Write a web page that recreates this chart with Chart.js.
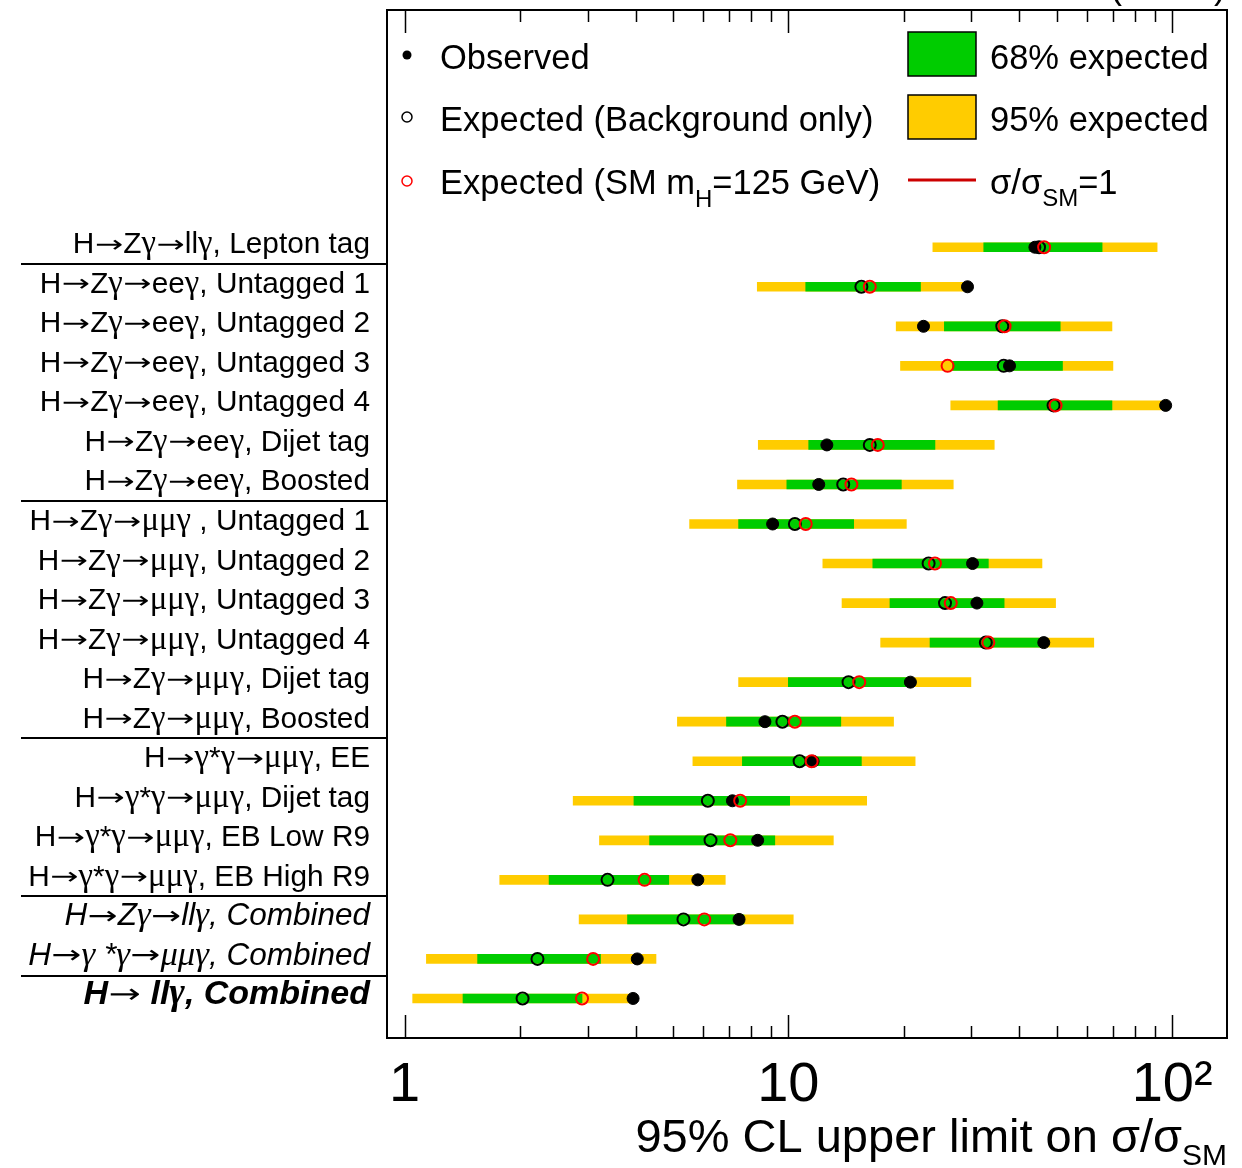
<!DOCTYPE html>
<html>
<head>
<meta charset="utf-8">
<title>H to ll gamma limits</title>
<script src="https://cdn.jsdelivr.net/npm/chart.js@4.4.0/dist/chart.umd.min.js"></script>
<style>
    html, body { margin: 0; padding: 0; background: #fff; }
    #wrap { width: 1242px; height: 1168px; position: relative; }
</style>
</head>
<body>
<div id="wrap"><canvas id="limitsChart"></canvas></div>
<script>
// --- Datos (límite superior al 95% CL sobre sigma/sigma_SM) ---
const categories = [
    'H→Zγ→llγ, Lepton tag',
    'H→Zγ→eeγ, Untagged 1',
    'H→Zγ→eeγ, Untagged 2',
    'H→Zγ→eeγ, Untagged 3',
    'H→Zγ→eeγ, Untagged 4',
    'H→Zγ→eeγ, Dijet tag',
    'H→Zγ→eeγ, Boosted',
    'H→Zγ→μμγ , Untagged 1',
    'H→Zγ→μμγ, Untagged 2',
    'H→Zγ→μμγ, Untagged 3',
    'H→Zγ→μμγ, Untagged 4',
    'H→Zγ→μμγ, Dijet tag',
    'H→Zγ→μμγ, Boosted',
    'H→γ*γ→μμγ, EE',
    'H→γ*γ→μμγ, Dijet tag',
    'H→γ*γ→μμγ, EB Low R9',
    'H→γ*γ→μμγ, EB High R9',
    'H→Zγ→llγ, Combined',
    'H→γ *γ→μμγ, Combined',
    'H→ llγ, Combined'
];
const yellowLo    = [23.8, 8.30, 19.1, 19.6, 26.5, 8.35, 7.37, 5.53, 12.3, 13.8, 17.4, 7.42, 5.14, 5.64, 2.75, 3.22, 1.77, 2.85, 1.14, 1.05];
const yellowHi    = [91.4, 28.9, 69.7, 70.1, 94.0, 34.4, 26.9, 20.3, 45.8, 49.7, 62.5, 29.9, 18.8, 21.4, 16.0, 13.1, 6.85, 10.3, 4.52, 3.88];
const greenLo     = [32.3, 11.1, 25.5, 26.8, 35.2, 11.3, 9.91, 7.42, 16.6, 18.4, 23.4, 10.0, 6.90, 7.59, 3.96, 4.35, 2.38, 3.81, 1.55, 1.42];
const greenHi     = [65.7, 22.1, 51.1, 51.8, 69.7, 24.1, 19.7, 14.8, 33.2, 36.5, 46.1, 20.75, 13.7, 15.5, 10.08, 9.22, 4.88, 7.66, 3.24, 2.90];
const observed    = [43.9, 29.3, 22.5, 37.7, 96.2, 12.6, 12.0, 9.10, 30.2, 31.0, 46.3, 20.8, 8.69, 11.6, 7.15, 8.32, 5.81, 7.44, 4.04, 3.94];
const expectedBkg = [45.0, 15.5, 36.1, 36.4, 49.1, 16.3, 13.9, 10.4, 23.2, 25.6, 32.7, 14.35, 9.65, 10.7, 6.17, 6.27, 3.38, 5.33, 2.22, 2.03];
const expectedSM  = [46.4, 16.3, 36.6, 26.0, 49.7, 17.1, 14.6, 11.1, 24.1, 26.5, 33.2, 15.3, 10.4, 11.5, 7.49, 7.06, 4.22, 6.04, 3.10, 2.90];
const xTickValues = [1, 10, 100];
const xTickLabels = ['1', '10', '10²'];
const separatorsAfter = [0, 6, 12, 16, 18]; // líneas bajo estas filas

const FONT = '"Liberation Sans", Arial, Helvetica, sans-serif';
const ARROW_FONT = '"DejaVu Sans", sans-serif';
const GREEK_FONT = '"Liberation Serif", "DejaVu Serif", serif';
const GREEN = '#00cc00';
const YELLOW = '#ffcc00';

const rows = categories.map((_, i) => i);
const band = (lo, hi) => rows.map(i => ({ x: [lo[i], hi[i]], y: i }));
const points = (vals) => rows.map(i => ({ x: vals[i], y: i }));

// estilo de las etiquetas: las combinadas van en cursiva, la última en negrita
function labelStyle(i) {
    if (i === 19) return { style: 'italic', weight: 'bold', size: 34 };
    if (i === 17 || i === 18) return { style: 'italic', weight: 'normal', size: 31.5 };
    return { style: 'normal', weight: 'normal', size: 29.8 };
}

function charKind(ch) {
    if (ch === '→') return 'arrow';
    if (ch === 'γ' || ch === 'μ') return 'greek';
    return 'text';
}

function segFont(kind, st) {
    if (kind === 'arrow') return `normal normal ${(st.size * 0.8).toFixed(1)}px ${ARROW_FONT}`;
    if (kind === 'greek') return `${st.style} ${st.weight} ${(st.size * 1.1).toFixed(1)}px ${GREEK_FONT}`;
    return `${st.style} ${st.weight} ${st.size}px ${FONT}`;
}

// etiqueta con fuentes mezcladas, alineada a la derecha; la flecha se estira a lo ancho
function drawLabel(ctx, text, st, xRight, yBase) {
    const segs = [];
    for (const ch of text) {
        const k = charKind(ch);
        if (k !== 'arrow' && segs.length && segs[segs.length - 1].kind === k) segs[segs.length - 1].t += ch;
        else segs.push({ kind: k, t: ch });
    }
    let total = 0;
    segs.forEach(s => {
        ctx.font = segFont(s.kind, st);
        s.raw = ctx.measureText(s.t).width;
        s.w = s.kind === 'arrow' ? st.size * 0.97 : s.raw;
        total += s.w;
    });
    let cx = xRight - total;
    ctx.textBaseline = 'alphabetic';
    segs.forEach(s => {
        ctx.font = segFont(s.kind, st);
        if (s.kind === 'arrow') {
            ctx.save();
            ctx.textAlign = 'center';
            ctx.translate(cx + s.w / 2, yBase - st.size * 0.05);
            ctx.scale((s.w * 0.98) / s.raw, 1);
            ctx.fillText(s.t, 0, 0);
            ctx.restore();
        } else {
            ctx.textAlign = 'left';
            ctx.fillText(s.t, cx, yBase);
        }
        cx += s.w;
    });
}

// texto con subíndices: parts = [[texto, tamaño, desplazamiento]]
function drawParts(ctx, parts, x, y, align) {
    let total = 0;
    parts.forEach(p => { ctx.font = p[1] + 'px ' + FONT; total += ctx.measureText(p[0]).width; });
    let cx = align === 'right' ? x - total : x;
    ctx.textAlign = 'left';
    ctx.textBaseline = 'alphabetic';
    parts.forEach(p => {
        ctx.font = p[1] + 'px ' + FONT;
        ctx.fillText(p[0], cx, y + p[2]);
        cx += ctx.measureText(p[0]).width;
    });
}

const framePlugin = {
    id: 'frame',
    afterDraw(chart) {
        const { ctx, chartArea: a, scales: { x, y } } = chart;
        ctx.save();
        ctx.fillStyle = '#000';
        ctx.strokeStyle = '#000';

        // marco del gráfico
        ctx.lineWidth = 2;
        ctx.strokeRect(a.left, a.top, a.right - a.left, a.bottom - a.top);

        // marcas logarítmicas hacia dentro (arriba y abajo)
        ctx.beginPath();
        for (let d = 1; d <= 100; d *= 10) {
            for (let m = 1; m <= 9; m++) {
                const v = d * m;
                if (v < x.min || v > x.max) continue;
                const px = Math.round(x.getPixelForValue(v)) + 0.5;
                const len = m === 1 ? 23 : 12;
                ctx.moveTo(px, a.bottom); ctx.lineTo(px, a.bottom - len);
                ctx.moveTo(px, a.top); ctx.lineTo(px, a.top + len);
            }
        }
        ctx.lineWidth = 1.5;
        ctx.stroke();

        // etiquetas de las categorías, en la posición de la escala y
        categories.forEach((c, i) => {
            drawLabel(ctx, c, labelStyle(i), a.left - 17, y.getPixelForValue(i) + 6);
        });

        // separadores entre grupos de categorías
        ctx.beginPath();
        separatorsAfter.forEach(k => {
            const py = Math.round(y.getPixelForValue(k + 0.42));
            ctx.moveTo(21, py); ctx.lineTo(a.left, py);
        });
        ctx.lineWidth = 2;
        ctx.stroke();

        // --- leyenda ---
        const mx = a.left + 20;
        const tx = a.left + 53;
        ctx.beginPath(); ctx.arc(mx, 55, 4.5, 0, Math.PI * 2); ctx.fill();
        ctx.lineWidth = 1.5;
        ctx.beginPath(); ctx.arc(mx, 117, 5, 0, Math.PI * 2); ctx.stroke();
        ctx.strokeStyle = '#ff0000';
        ctx.beginPath(); ctx.arc(mx, 181, 5, 0, Math.PI * 2); ctx.stroke();

        drawParts(ctx, [['Observed', 34.5, 0]], tx, 69, 'left');
        drawParts(ctx, [['Expected (Background only)', 34.5, 0]], tx, 131, 'left');
        drawParts(ctx, [['Expected (SM m', 34.5, 0], ['H', 24, 13], ['=125 GeV)', 34.5, 0]], tx, 194, 'left');

        const bx = a.left + 521, bw = 68, bh = 44;
        ctx.strokeStyle = '#000';
        ctx.lineWidth = 1.5;
        ctx.fillStyle = GREEN;
        ctx.fillRect(bx, 32, bw, bh); ctx.strokeRect(bx, 32, bw, bh);
        ctx.fillStyle = YELLOW;
        ctx.fillRect(bx, 95, bw, bh); ctx.strokeRect(bx, 95, bw, bh);
        ctx.strokeStyle = '#cc0000';
        ctx.lineWidth = 3;
        ctx.beginPath(); ctx.moveTo(bx, 180); ctx.lineTo(bx + bw, 180); ctx.stroke();

        ctx.fillStyle = '#000';
        const rx = a.left + 603;
        drawParts(ctx, [['68% expected', 34.5, 0]], rx, 69, 'left');
        drawParts(ctx, [['95% expected', 34.5, 0]], rx, 131, 'left');
        drawParts(ctx, [['σ/σ', 34.5, 0], ['SM', 24, 12], ['=1', 34.5, 0]], rx, 194, 'left');

        // título del eje x
        drawParts(ctx, [['95% CL upper limit on σ/σ', 47, 0], ['SM', 30, 13]], a.right, 1152, 'right');

        // texto superior recortado por el borde
        drawParts(ctx, [['(8 TeV)', 36, 0]], a.right - 1, -2, 'right');
        ctx.restore();
    }
};

const ctx = document.getElementById('limitsChart').getContext('2d');
new Chart(ctx, {
    type: 'bar',
    data: {
        datasets: [
            {
                type: 'scatter', label: 'Expected (SM mH=125 GeV)', data: points(expectedSM), order: 0,
                pointRadius: 6, pointBorderWidth: 2, pointBorderColor: '#ff0000', pointBackgroundColor: 'rgba(0,0,0,0)'
            },
            {
                type: 'scatter', label: 'Expected (Background only)', data: points(expectedBkg), order: 1,
                pointRadius: 6, pointBorderWidth: 2, pointBorderColor: '#000', pointBackgroundColor: 'rgba(0,0,0,0)'
            },
            {
                type: 'scatter', label: 'Observed', data: points(observed), order: 2,
                pointRadius: 6, pointBorderWidth: 1, pointBorderColor: '#000', pointBackgroundColor: '#000'
            },
            {
                label: '68% expected', data: band(greenLo, greenHi), order: 3,
                backgroundColor: GREEN, borderWidth: 0, barThickness: 9, grouped: false
            },
            {
                label: '95% expected', data: band(yellowLo, yellowHi), order: 4,
                backgroundColor: YELLOW, borderWidth: 0, barThickness: 9, grouped: false
            }
        ]
    },
    options: {
        indexAxis: 'y',
        responsive: true,
        maintainAspectRatio: false,
        animation: false,
        layout: { padding: { top: 10, right: 15, left: 0, bottom: 0 } },
        plugins: { legend: { display: false }, tooltip: { enabled: false } },
        scales: {
            x: {
                type: 'logarithmic', position: 'bottom', min: 0.9, max: 139,
                grid: { display: false, drawTicks: false }, border: { display: false },
                afterBuildTicks: s => { s.ticks = xTickValues.map(v => ({ value: v })); },
                afterFit: s => { s.height = 130; s.paddingLeft = 0; s.paddingRight = 0; },
                ticks: {
                    autoSkip: false, maxRotation: 0, padding: 14, color: '#000',
                    font: { family: FONT, size: 56 },
                    callback: v => { const k = xTickValues.indexOf(v); return k >= 0 ? xTickLabels[k] : ''; }
                }
            },
            y: {
                type: 'linear', position: 'left', min: -6, max: 20, reverse: true, offset: false,
                grid: { display: false, drawTicks: false, offset: false }, border: { display: false },
                afterBuildTicks: s => { s.ticks = rows.map(i => ({ value: i })); },
                afterFit: s => { s.width = 387; s.paddingTop = 0; s.paddingBottom = 0; },
                ticks: { display: false }
            }
        }
    },
    plugins: [framePlugin]
});
</script>
</body>
</html>
